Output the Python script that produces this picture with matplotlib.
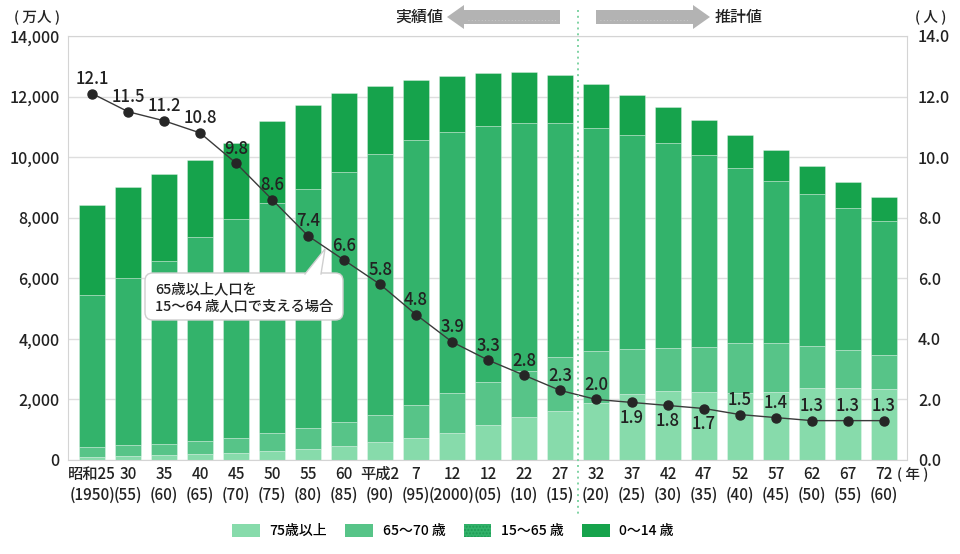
"""人口構成の推移（積み上げ棒）と 65歳以上1人を支える 15〜64歳人口（折れ線）。"""

import matplotlib

matplotlib.use("Agg")
import matplotlib.pyplot as plt
from matplotlib.patches import FancyBboxPatch, Patch, Polygon
from matplotlib.lines import Line2D
from matplotlib.ticker import FuncFormatter
import matplotlib.transforms as mtransforms

plt.rcParams["font.family"] = ["Noto Sans CJK JP", "DejaVu Sans"]
plt.rcParams["font.weight"] = "medium"

# --- データ（万人） ---
era_labels = ["昭和25", "30", "35", "40", "45", "50", "55", "60", "平成2", "7", "12",
              "12", "22", "27", "32", "37", "42", "47", "52", "57", "62", "67", "72"]
year_labels = ["(1950)", "(55)", "(60)", "(65)", "(70)", "(75)", "(80)", "(85)", "(90)",
               "(95)", "(2000)", "(05)", "(10)", "(15)", "(20)", "(25)", "(30)", "(35)",
               "(40)", "(45)", "(50)", "(55)", "(60)"]
age_75_over = [107, 139, 163, 189, 224, 284, 366, 471, 597, 717, 901, 1164, 1419, 1632,
               1879, 2179, 2278, 2245, 2223, 2257, 2385, 2380, 2336]
age_65_74 = [309, 340, 377, 435, 515, 603, 699, 776, 892, 1109, 1303, 1412, 1529, 1755,
             1733, 1478, 1407, 1496, 1645, 1599, 1383, 1246, 1128]
age_15_64 = [5016, 5517, 6047, 6744, 7213, 7585, 7890, 8255, 8623, 8730, 8642, 8449, 8178,
             7727, 7341, 7085, 6773, 6342, 5787, 5353, 5001, 4706, 4419]
age_0_14 = [2979, 3012, 2843, 2553, 2515, 2722, 2751, 2603, 2249, 2001, 1847, 1752, 1680,
            1595, 1457, 1324, 1204, 1129, 1073, 1012, 939, 861, 791]
support_ratio = [12.1, 11.5, 11.2, 10.8, 9.8, 8.6, 7.4, 6.6, 5.8, 4.8, 3.9, 3.3, 2.8, 2.3,
                 2.0, 1.9, 1.8, 1.7, 1.5, 1.4, 1.3, 1.3, 1.3]
labels_below = {15, 16, 17}  # 1.9, 1.8, 1.7 は点の下に表示

legend_labels = ["75歳以上", "65〜70 歳", "15〜65 歳", "0〜14 歳"]
colors = ["#87dbab", "#57c488", "#33b36b", "#16a34c"]

W, H = 960, 554


def px(x, y):
    """ピクセル座標（左上原点）→ figure 座標"""
    return x / W, 1 - y / H


fig = plt.figure(figsize=(9.6, 5.54), dpi=100)
ax = fig.add_axes([68 / W, 1 - 460 / H, (907 - 68) / W, (460 - 36) / H])

x = list(range(len(era_labels)))
bottom = [0] * len(x)
for vals, c in zip([age_75_over, age_65_74, age_15_64, age_0_14], colors):
    ax.bar(x, vals, width=0.72, bottom=bottom, color=c,
           edgecolor=(1, 1, 1, 0.35), linewidth=0.6, zorder=2)
    bottom = [b + v for b, v in zip(bottom, vals)]

ax.set_xlim(-0.67, 22.64)
ax.set_ylim(0, 14000)
ax.set_yticks(range(0, 14001, 2000))
ax.yaxis.set_major_formatter(FuncFormatter(lambda v, _: f"{int(v):,}"))
ax.set_xticks(x)
ax.set_xticklabels([f"{a}\n{b}" for a, b in zip(era_labels, year_labels)],
                   fontsize=11, linespacing=1.35)
ax.tick_params(axis="both", length=0, colors="#222222")
ax.tick_params(axis="y", labelsize=11.5, pad=6)
ax.tick_params(axis="x", pad=4)
ax.grid(axis="y", color="#dedede", linewidth=1, zorder=0)
ax.set_axisbelow(True)
for s in ax.spines.values():
    s.set_color("#d4d4d4")

# 折れ線（右軸）
ax2 = ax.twinx()
ax2.plot(x, support_ratio, color="#3a3a3a", linewidth=1, marker="o",
         markersize=6.5, markerfacecolor="#262626", markeredgecolor="#262626", zorder=3)
ax2.set_ylim(0, 14)
ax2.set_yticks(range(0, 15, 2))
ax2.yaxis.set_major_formatter(FuncFormatter(lambda v, _: f"{v:.1f}"))
ax2.tick_params(axis="y", length=0, labelsize=11.5, pad=8, colors="#222222")
for s in ax2.spines.values():
    s.set_visible(False)

for i, v in enumerate(support_ratio):
    if i in labels_below:
        ax2.annotate(f"{v:.1f}", (i, v), xytext=(0, -5), textcoords="offset points",
                     ha="center", va="top", fontsize=12, color="#222222")
    else:
        ax2.annotate(f"{v:.1f}", (i, v), xytext=(0, 4), textcoords="offset points",
                     ha="center", va="bottom", fontsize=12, color="#222222")

# 実績値／推計値の境界線
trans = mtransforms.blended_transform_factory(ax.transData, fig.transFigure)
fig.add_artist(Line2D([13.5, 13.5], [1 - 10 / H, 1 - 515 / H], transform=trans,
                      color="#7fd3a3", linewidth=1.4, linestyle=(0, (1, 2))))

# 矢印
arrow_left = [(447, 17), (464, 5), (464, 10), (560, 10), (560, 24), (464, 24), (464, 29)]
arrow_right = [(710, 17), (693, 5), (693, 10), (596, 10), (596, 24), (693, 24), (693, 29)]
for pts in (arrow_left, arrow_right):
    fig.add_artist(Polygon([px(*p) for p in pts], closed=True, transform=fig.transFigure,
                           facecolor="#b3b3b3", edgecolor="none"))
fig.add_artist(Line2D([px(468, 0)[0], px(556, 0)[0]], [px(0, 20)[1]] * 2,
                      transform=fig.transFigure, color="#d0d0d0", linewidth=0.6,
                      linestyle=(0, (1, 3))))
fig.add_artist(Line2D([px(600, 0)[0], px(690, 0)[0]], [px(0, 20)[1]] * 2,
                      transform=fig.transFigure, color="#d0d0d0", linewidth=0.6,
                      linestyle=(0, (1, 3))))
fig.text(*px(443, 17), "実績値", ha="right", va="center", fontsize=11.5, color="#222222")
fig.text(*px(715, 17), "推計値", ha="left", va="center", fontsize=11.5, color="#222222")

# 単位
fig.text(*px(37, 17), "( 万人 )", ha="center", va="center", fontsize=10.5, color="#222222")
fig.text(*px(931, 17), "( 人 )", ha="center", va="center", fontsize=10.5, color="#222222")
fig.text(*px(913, 475), "( 年 )", ha="center", va="center", fontsize=10.5, color="#222222")

# 吹き出し
bx0, by0 = px(145, 320)
bx1, by1 = px(343, 273)
fig.add_artist(FancyBboxPatch((bx0, by0), bx1 - bx0, by1 - by0,
                              boxstyle="round,pad=0,rounding_size=0.008",
                              transform=fig.transFigure, facecolor="white",
                              edgecolor="#cfcfcf", linewidth=1, zorder=5,
                              mutation_aspect=W / H))
tail = [px(305, 274), px(325, 249), px(321, 274)]
fig.add_artist(Polygon(tail, closed=True, transform=fig.transFigure,
                       facecolor="white", edgecolor="none", zorder=6))
fig.add_artist(Line2D([tail[0][0], tail[1][0], tail[2][0]],
                      [tail[0][1], tail[1][1], tail[2][1]],
                      transform=fig.transFigure, color="#cfcfcf", linewidth=1, zorder=6))
fig.text(*px(155, 298), "65歳以上人口を\n15〜64 歳人口で支える場合", ha="left",
         va="center", fontsize=10.3, linespacing=1.3, color="#222222", zorder=7)

# 凡例
handles = [
    Patch(facecolor=colors[0], edgecolor="none"),
    Patch(facecolor=colors[1], edgecolor="none"),
    Patch(facecolor=colors[2], edgecolor="#1f9a55", hatch=".....", linewidth=0),
    Patch(facecolor=colors[3], edgecolor="none"),
]
fig.legend(handles, legend_labels, loc="center", bbox_to_anchor=px(453, 531), ncol=4,
           frameon=False, fontsize=10, handlelength=2.0, handleheight=1.15,
           handletextpad=0.7, columnspacing=1.3)

fig.savefig("out.png", dpi=100)
plt.close(fig)
